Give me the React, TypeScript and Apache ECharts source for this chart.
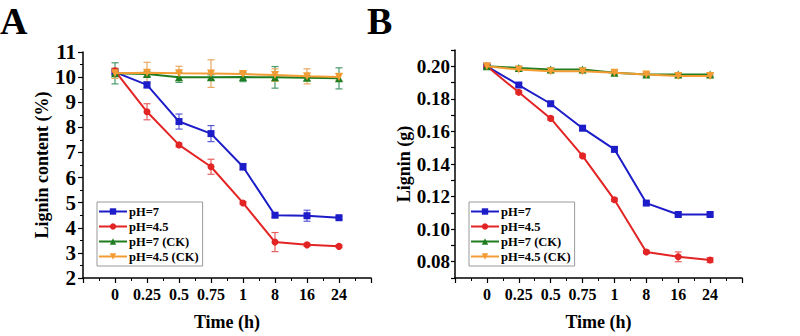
import React, { useEffect, useRef } from "react";
import * as echarts from "echarts";

const categories = ["0", "0.25", "0.5", "0.75", "1", "8", "16", "24"];
const seriesNames = ["pH=7", "pH=4.5", "pH=7 (CK)", "pH=4.5 (CK)"];

// Panel A: lignin content (%)
const aPH7 = [10.2, 9.69, 8.23, 7.75, 6.43, 4.5, 4.48, 4.4];
const aPH7Err = [0.1, 0.12, 0.3, 0.32, 0.13, 0.08, 0.22, 0.06];
const aPH45 = [10.25, 8.62, 7.3, 6.43, 4.99, 3.43, 3.32, 3.26];
const aPH45Err = [0.1, 0.32, 0.08, 0.3, 0.05, 0.38, 0.06, 0.05];
const aPH7CK = [10.15, 10.12, 9.99, 9.99, 10.0, 9.99, 9.97, 9.95];
const aPH7CKErr = [0.42, 0.1, 0.2, 0.1, 0.18, 0.43, 0.1, 0.42];
const aPH45CK = [10.15, 10.17, 10.15, 10.14, 10.12, 10.08, 10.03, 10.0];
const aPH45CKErr = [0.2, 0.42, 0.28, 0.55, 0.1, 0.25, 0.3, 0.15];

// Panel B: lignin (g)
const bPH7 = [0.2, 0.1885, 0.177, 0.162, 0.149, 0.116, 0.109, 0.109];
const bPH7Err = [0.001, 0.001, 0.001, 0.0015, 0.0015, 0.001, 0.001, 0.001];
const bPH45 = [0.2, 0.184, 0.168, 0.145, 0.118, 0.086, 0.083, 0.081];
const bPH45Err = [0.001, 0.001, 0.001, 0.001, 0.001, 0.001, 0.003, 0.0015];
const bPH7CK = [0.2, 0.199, 0.198, 0.198, 0.196, 0.195, 0.195, 0.195];
const bPH7CKErr = [0.001, 0.001, 0.001, 0.001, 0.001, 0.001, 0.001, 0.001];
const bPH45CK = [0.2, 0.198, 0.197, 0.197, 0.196, 0.195, 0.194, 0.194];
const bPH45CKErr = [0.001, 0.001, 0.001, 0.001, 0.001, 0.001, 0.001, 0.001];

const colors = ["#1c1cc8", "#e22424", "#1f7d1f", "#f39c34"];
const errColors = ["#5a5ad8", "#e86060", "#4a9a6a", "#e8a860"];
const symbols = ["rect", "circle", "triangle", "path://M0,0 L10,0 L5,9 Z"];
const symbolSizes = [7, 7, 8, 8];

const FONT = "'Liberation Serif', 'Times New Roman', serif";

function lineSeries(idx: number, values: number[], gi: number) {
  return {
    type: "line",
    name: seriesNames[idx],
    xAxisIndex: gi,
    yAxisIndex: gi,
    data: values.map((v, i) => [i + 1, v]),
    symbol: symbols[idx],
    symbolSize: symbolSizes[idx],
    itemStyle: { color: colors[idx] },
    lineStyle: { color: colors[idx], width: 2 },
    z: 3 + idx,
  };
}

function errSeries(idx: number, values: number[], errs: number[], gi: number) {
  const color = errColors[idx];
  return {
    type: "custom",
    name: seriesNames[idx] + " err",
    xAxisIndex: gi,
    yAxisIndex: gi,
    coordinateSystem: "cartesian2d",
    data: values.map((v, i) => [i + 1, v - errs[i], v + errs[i]]),
    encode: { x: 0, y: [1, 2] },
    z: 2,
    silent: true,
    renderItem: (params: any, api: any) => {
      const x = api.value(0);
      const lo = api.coord([x, api.value(1)]);
      const hi = api.coord([x, api.value(2)]);
      const w = 3.5;
      const st = { stroke: color, lineWidth: 1.2 };
      return {
        type: "group",
        children: [
          { type: "line", shape: { x1: lo[0], y1: lo[1], x2: hi[0], y2: hi[1] }, style: st },
          { type: "line", shape: { x1: lo[0] - w, y1: lo[1], x2: lo[0] + w, y2: lo[1] }, style: st },
          { type: "line", shape: { x1: hi[0] - w, y1: hi[1], x2: hi[0] + w, y2: hi[1] }, style: st },
        ],
      };
    },
  };
}

const axisLineStyle = { color: "#000", width: 1.5 };

function xAxis(gi: number) {
  return {
    type: "value",
    gridIndex: gi,
    min: 0,
    max: 9,
    interval: 1,
    name: "Time (h)",
    nameLocation: "middle",
    nameGap: 35,
    nameTextStyle: { fontFamily: FONT, fontWeight: "bold", fontSize: 18, color: "#000" },
    axisLine: { lineStyle: axisLineStyle },
    axisTick: { show: true, inside: false, length: 5, lineStyle: { color: "#000", width: 1.2 } },
    minorTick: { show: true, splitNumber: 2, length: 3, lineStyle: { color: "#000", width: 1 } },
    splitLine: { show: false },
    axisLabel: {
      fontFamily: FONT,
      fontWeight: "bold",
      fontSize: 16,
      color: "#000",
      margin: 8,
      formatter: (v: number) => {
        const i = Math.round(v) - 1;
        return i >= 0 && i < categories.length ? categories[i] : "";
      },
    },
  };
}

export default function App() {
  const ref = useRef<HTMLDivElement>(null);

  useEffect(() => {
    document.body.style.margin = "0";
    if (!ref.current) return;
    const chart = echarts.init(ref.current, undefined, { renderer: "svg" });

    const legendBase = {
      orient: "vertical",
      data: seriesNames,
      itemWidth: 28,
      itemHeight: 8,
      itemGap: 2,
      borderColor: "#999",
      borderWidth: 1,
      borderRadius: 0,
      padding: [3, 4, 3, 1],
      textStyle: { fontFamily: FONT, fontWeight: "bold", fontSize: 12.5, color: "#000", lineHeight: 13, padding: [0, 0, 0, -3] },
      selectedMode: false,
    };

    const option: any = {
      animation: false,
      backgroundColor: "#fff",
      grid: [
        { left: 83, top: 52, width: 288, height: 231 },
        { left: 455, top: 50, width: 287, height: 233 },
      ],
      xAxis: [xAxis(0), xAxis(1)],
      yAxis: [
        {
          type: "value",
          gridIndex: 0,
          min: 2,
          max: 11,
          interval: 1,
          name: "Lignin content (%)",
          nameLocation: "middle",
          nameGap: 24,
          nameTextStyle: { fontFamily: FONT, fontWeight: "bold", fontSize: 18, color: "#000" },
          axisLine: { show: true, lineStyle: axisLineStyle },
          axisTick: { show: true, inside: false, length: 5, lineStyle: { color: "#000", width: 1.2 } },
          minorTick: { show: true, splitNumber: 2, length: 3, lineStyle: { color: "#000", width: 1 } },
          splitLine: { show: false },
          axisLabel: { fontFamily: FONT, fontWeight: "bold", fontSize: 21, color: "#000", margin: 7 },
        },
        {
          type: "value",
          gridIndex: 1,
          min: 0.07,
          max: 0.21,
          interval: 0.01,
          name: "Lignin (g)",
          nameLocation: "middle",
          nameGap: 34,
          nameTextStyle: { fontFamily: FONT, fontWeight: "bold", fontSize: 18, color: "#000" },
          axisLine: { show: true, lineStyle: axisLineStyle },
          axisTick: { show: true, inside: false, length: 4, lineStyle: { color: "#000", width: 1.2 } },
          splitLine: { show: false },
          axisLabel: {
            fontFamily: FONT,
            fontWeight: "bold",
            fontSize: 19,
            color: "#000",
            margin: 5,
            formatter: (v: number) => {
              const k = Math.round(v * 100);
              return k % 2 === 0 ? (k / 100).toFixed(2) : "";
            },
          },
        },
      ],
      legend: [
        { ...legendBase, left: 97, top: 202 },
        { ...legendBase, left: 469, top: 202 },
      ],
      graphic: [
        { type: "text", left: 0, top: 2, style: { text: "A", font: `bold 38px ${FONT}`, fill: "#000" } },
        { type: "text", left: 367, top: 2, style: { text: "B", font: `bold 38px ${FONT}`, fill: "#000" } },
      ],
      series: [
        errSeries(0, aPH7, aPH7Err, 0),
        errSeries(1, aPH45, aPH45Err, 0),
        errSeries(2, aPH7CK, aPH7CKErr, 0),
        errSeries(3, aPH45CK, aPH45CKErr, 0),
        lineSeries(0, aPH7, 0),
        lineSeries(1, aPH45, 0),
        lineSeries(2, aPH7CK, 0),
        lineSeries(3, aPH45CK, 0),
        errSeries(0, bPH7, bPH7Err, 1),
        errSeries(1, bPH45, bPH45Err, 1),
        errSeries(2, bPH7CK, bPH7CKErr, 1),
        errSeries(3, bPH45CK, bPH45CKErr, 1),
        lineSeries(0, bPH7, 1),
        lineSeries(1, bPH45, 1),
        lineSeries(2, bPH7CK, 1),
        lineSeries(3, bPH45CK, 1),
      ],
    };
    chart.setOption(option);
    return () => chart.dispose();
  }, []);

  return <div ref={ref} style={{ width: 800, height: 336 }} />;
}
